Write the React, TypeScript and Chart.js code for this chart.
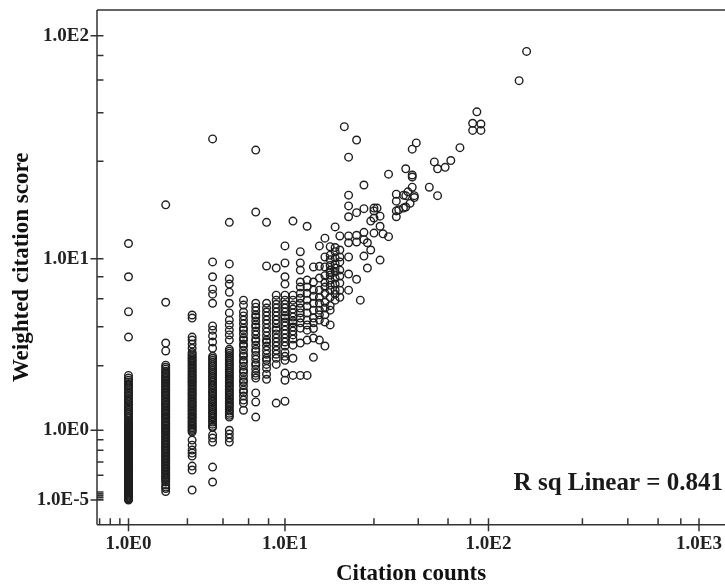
import React, { useEffect, useRef } from "react";
import { Chart, registerables } from "chart.js";

Chart.register(...registerables);

const columnCounts = [1, 2, 3, 4, 5, 6, 7, 8, 9, 10, 11, 12, 13, 14, 15, 16, 17, 18, 19];
const scores1 = [11.8, 8.2, 5.5, 4.05, 2.45, 2.36, 2.29, 2.23, 2.16, 2.11, 2.05, 1.98, 1.92, 1.87, 1.81, 1.75, 1.7, 1.65, 1.59, 1.54, 1.49, 1.44, 1.39, 1.35, 1.3, 1.26, 1.21, 1.17, 1.15, 1.125, 1.1, 1.08, 1.06, 1.04, 1.02, 1, 0.985, 0.965, 0.945, 0.926, 0.907, 0.888, 0.869, 0.85, 0.832, 0.814, 0.796, 0.778, 0.76, 0.743, 0.725, 0.708, 0.691, 0.675, 0.658, 0.642, 0.626, 0.61, 0.594, 0.578, 0.562, 0.547, 0.532, 0.517, 0.502, 0.487, 0.472, 0.458, 0.443, 0.429, 0.415, 0.401, 0.387, 0.374, 0.36, 0.347, 0.333, 0.32, 0.307, 0.294, 0.281, 0.269, 0.256, 0.244, 0.232, 0.22, 0.208, 0.196, 0.184, 0.172, 0.16, 0.149, 0.137, 0.126, 0.115, 0.104, 0.093, 0.082, 0.071, 0.061, 0.05, 0.04, 0.03, 0.02, 0.01, 0.00001];
const scores2 = [17.8, 6.14, 3.76, 3.4, 2.82, 2.74, 2.67, 2.6, 2.54, 2.49, 2.44, 2.39, 2.34, 2.29, 2.25, 2.2, 2.15, 2.11, 2.06, 2.01, 1.97, 1.92, 1.88, 1.84, 1.8, 1.75, 1.71, 1.67, 1.63, 1.59, 1.56, 1.52, 1.48, 1.44, 1.41, 1.37, 1.34, 1.3, 1.27, 1.24, 1.2, 1.17, 1.14, 1.11, 1.08, 1.05, 1.02, 0.995, 0.965, 0.936, 0.907, 0.878, 0.85, 0.823, 0.796, 0.769, 0.743, 0.716, 0.691, 0.666, 0.642, 0.618, 0.594, 0.57, 0.547, 0.525, 0.502, 0.48, 0.458, 0.436, 0.415, 0.394, 0.374, 0.354, 0.333, 0.313, 0.294, 0.275, 0.256, 0.238, 0.22, 0.196, 0.16, 0.137, 0.12, 0.088];
const scores3 = [5.29, 5.1, 4.05, 3.9, 3.71, 3.52, 3.34, 3.27, 3.2, 3.13, 3.07, 3.01, 2.95, 2.89, 2.83, 2.77, 2.71, 2.66, 2.6, 2.55, 2.49, 2.44, 2.39, 2.34, 2.29, 2.25, 2.2, 2.15, 2.11, 2.06, 2.01, 1.97, 1.92, 1.88, 1.84, 1.8, 1.75, 1.71, 1.67, 1.63, 1.59, 1.56, 1.52, 1.48, 1.44, 1.41, 1.37, 1.34, 1.3, 1.27, 1.24, 1.2, 1.17, 1.14, 1.11, 1.08, 1.05, 1.02, 0.995, 0.965, 0.814, 0.725, 0.642, 0.594, 0.547, 0.401, 0.347, 0.104];
const scores4 = [35.2, 9.66, 8.2, 7.13, 6.74, 6.07, 4.64, 4.41, 4.11, 3.81, 3.52, 3.17, 3.09, 3.01, 2.93, 2.85, 2.78, 2.7, 2.63, 2.56, 2.49, 2.42, 2.36, 2.29, 2.23, 2.16, 2.11, 2.05, 1.98, 1.92, 1.87, 1.81, 1.75, 1.7, 1.65, 1.59, 1.54, 1.49, 1.44, 1.39, 1.35, 1.3, 1.26, 1.21, 1.17, 1.125, 1.08, 1.06, 0.91, 0.85, 0.778, 0.387, 0.196];
const scores5 = [14.8, 9.45, 8, 7.55, 6.89, 6.07, 5.42, 4.98, 4.7, 4.41, 4.16, 3.9, 3.47, 3.39, 3.3, 3.21, 3.13, 3.05, 2.97, 2.89, 2.82, 2.74, 2.67, 2.6, 2.53, 2.46, 2.39, 2.33, 2.26, 2.2, 2.13, 2.08, 2.01, 1.95, 1.9, 1.84, 1.78, 1.73, 1.67, 1.62, 1.57, 1.52, 1.46, 1.42, 1.37, 1.32, 1.28, 1, 0.926, 0.85, 0.778];
const scores6 = [6.29, 5.94, 5.48, 5.23, 4.98, 4.76, 4.52, 4.41, 4.21, 4, 3.9, 3.71, 3.62, 3.43, 3.26, 3.17, 3.01, 2.93, 2.78, 2.63, 2.56, 2.42, 2.29, 2.23, 2.11, 1.98, 1.92, 1.81, 1.7, 1.62, 1.44];
const scores7 = [31.4, 16.5, 6.07, 5.8, 5.55, 5.29, 5.16, 4.93, 4.7, 4.58, 4.36, 4.16, 3.95, 3.86, 3.66, 3.47, 3.38, 3.21, 3.05, 2.89, 2.82, 2.67, 2.53, 2.45, 2.36, 1.9, 1.65, 1.28];
const scores8 = [14.8, 9.24, 6.07, 5.74, 5.48, 5.23, 4.98, 4.76, 4.52, 4.32, 4.11, 3.9, 3.81, 3.62, 3.43, 3.26, 3.09, 3.01, 2.85, 2.7, 2.49, 2.32];
const scores9 = [9.03, 6.66, 6.29, 6, 5.74, 5.48, 5.23, 4.98, 4.76, 4.52, 4.41, 4.21, 4, 3.81, 3.62, 3.43, 3.26, 3.09, 2.85, 1.62];
const scores10 = [11.5, 9.55, 8.2, 7.55, 6.66, 6.29, 6, 5.74, 5.48, 5.23, 5.1, 4.87, 4.64, 4.41, 4.21, 4, 3.81, 3.62, 3.34, 3.17, 3.01, 2.53, 2.29, 1.67];
const scores11 = [15, 6.66, 6.29, 5.94, 5.67, 5.42, 5.16, 4.93, 4.82, 4.58, 4.36, 4.16, 3.95, 3.66, 3.09, 2.45];
const scores12 = [10.8, 9.55, 8.83, 7.73, 7.3, 6.8, 6.43, 6.07, 5.74, 5.42, 5.1, 4.82, 4.52, 3.76, 2.45];
const scores13 = [14.2, 7.9, 7.3, 6.8, 6.29, 5.87, 5.42, 4.98, 4.7, 4.41, 3.9, 2.45];
const scores14 = [9.14, 7.73, 7.05, 6.58, 6.07, 5.6, 5.1, 4.82, 4.5, 4, 3.13];
const scores15 = [11.5, 9.2, 8.08, 7.05, 6.5, 6.07, 5.6, 5.3, 4.98, 3.9];
const scores16 = [12.5, 10.2, 9.14, 8.3, 7.7, 7.3, 6.8, 6.14, 5.74, 5.3, 4.87, 3.62];
const scores17 = [11.4, 10.4, 9.9, 9.3, 8.83, 8.6, 8.35, 7.9, 7.46, 7.05, 6.5, 5.9, 5.6, 4.7];
const scores18 = [14.1, 11.3, 10.8, 10.1, 9.45, 9.03, 8.64, 8.08, 7.55, 7.05, 6.74, 6.29];
const scores19 = [12.8, 11, 10.2, 9.66, 8.83, 8.26, 7.64, 7.05, 6.5];
const columnScores = [scores1, scores2, scores3, scores4, scores5, scores6, scores7, scores8, scores9, scores10, scores11, scores12, scores13, scores14, scores15, scores16, scores17, scores18, scores19];

const highCounts = [20, 21, 21, 21, 21, 21, 21, 21, 21, 21, 23, 23, 23, 23, 23, 24, 25, 25, 25, 25, 25, 26, 26, 27, 27, 28, 28, 28, 28, 29, 30, 30, 30, 31, 33, 33, 36, 36, 36, 36, 37, 39, 39, 40, 40, 40, 41, 42, 43, 43, 43, 43, 44, 44, 45, 52, 55, 57, 57, 62, 66, 73, 84, 84, 88, 92, 92, 140, 152];
const highScores = [39.9, 29.2, 19.7, 17.6, 15.7, 12.8, 11.9, 10.2, 8.45, 7.05, 34.8, 16.4, 12.9, 12, 7.97, 6.29, 21.9, 17.1, 13.3, 12.3, 10.3, 11.9, 9.03, 15, 11, 17.2, 16.7, 15.5, 13.2, 17.2, 15.8, 14.2, 9.86, 13.1, 24.5, 12.7, 19.9, 18.5, 16.7, 15.7, 16.9, 19.7, 17.2, 25.9, 19.6, 17.4, 20.4, 18.1, 31.7, 24.3, 23.8, 21.4, 19.6, 19.2, 33.8, 21.4, 27.8, 25.9, 19.6, 26.3, 28.2, 32.2, 41.3, 38.4, 46.4, 41, 38.4, 63.6, 85.4];

const xMajorTicks = [1, 10, 100, 1000];
const xMinorTicks = [0.46, 0.64, 0.82, 2.8, 4.6, 6.4, 8.2, 28, 46, 64, 82, 280, 460, 640, 820];
const yMajorTicks = [0.00001, 1, 10, 100];
const yMinorTicks = [0.0082, 0.0064, 0.0046, 0.0028, 0.028, 0.046, 0.064, 0.082, 0.28, 0.46, 0.64, 0.82, 2.8, 4.6, 6.4, 8.2, 28, 46, 64, 82];
const xTitle = "Citation counts";
const yTitle = "Weighted citation score";
const fitNote = "R sq Linear = 0.841";

const shifted = (v: number) => Math.log10(v + 1);
const tickLabel = (v: number) => `1.0E${Math.round(Math.log10(v))}`;
const INK = "#333333";
const SERIF = "'Liberation Serif', serif";

// Unlabelled ticks go first and last so the axes reserve no overhang for labels.
const makeTicks = (major: number[], minor: number[]) => [
  ...minor.slice(0, 1).map((v) => ({ value: shifted(v), major: false, raw: v })),
  ...major.map((v) => ({ value: shifted(v), major: true, raw: v })),
  ...minor.slice(1).map((v) => ({ value: shifted(v), major: false, raw: v })),
];

const frameAndTicks = {
  id: "frameAndTicks",
  afterDraw(chart: any) {
    const { ctx, chartArea: a, scales } = chart;
    ctx.save();
    ctx.strokeStyle = INK;
    ctx.lineWidth = 1.5;
    ctx.beginPath();
    ctx.moveTo(a.left, a.top);
    ctx.lineTo(a.right, a.top);
    ctx.moveTo(a.left, a.top);
    ctx.lineTo(a.left, a.bottom);
    ctx.moveTo(a.left, a.bottom);
    ctx.lineTo(a.right, a.bottom);
    for (const t of scales.x.ticks) {
      const p = scales.x.getPixelForValue(t.value);
      ctx.moveTo(p, a.bottom - 6.5);
      ctx.lineTo(p, a.bottom + (t.major ? 6.5 : 0));
    }
    ctx.stroke();
    ctx.beginPath();
    for (const t of scales.y.ticks) {
      const p = scales.y.getPixelForValue(t.value);
      ctx.moveTo(a.left + 6.5, p);
      ctx.lineTo(a.left - (t.major ? 6.5 : 0), p);
    }
    ctx.stroke();
    ctx.fillStyle = "#1a1a1a";
    ctx.font = `bold 25px ${SERIF}`;
    ctx.textAlign = "right";
    ctx.textBaseline = "alphabetic";
    ctx.fillText(fitNote, 723, 490);
    ctx.restore();
  },
};

export default function App() {
  const ref = useRef<HTMLCanvasElement>(null);
  useEffect(() => {
    const points: { x: number; y: number }[] = [];
    columnCounts.forEach((c, i) => {
      columnScores[i].forEach((s) => points.push({ x: shifted(c), y: shifted(s) }));
    });
    highCounts.forEach((c, i) => points.push({ x: shifted(c), y: shifted(highScores[i]) }));

    const tickFont = { family: SERIF, size: 19, weight: "bold" as const };
    const titleFont = { family: SERIF, size: 23, weight: "bold" as const, lineHeight: 1 };

    const chart = new Chart(ref.current!, {
      type: "scatter",
      data: {
        datasets: [
          {
            data: points,
            pointStyle: "circle",
            pointRadius: 3.8,
            pointBorderWidth: 1.4,
            pointBackgroundColor: "rgba(0,0,0,0)",
            pointBorderColor: "#1f1f1f",
          },
        ],
      },
      options: {
        responsive: false,
        animation: false,
        layout: { autoPadding: false, padding: { top: 10, left: 0, right: 0, bottom: 0 } },
        plugins: { legend: { display: false }, tooltip: { enabled: false }, title: { display: false } },
        scales: {
          x: {
            type: "linear",
            min: 0.152,
            max: 3.1234,
            afterBuildTicks: (s: any) => {
              s.ticks = makeTicks(xMajorTicks, xMinorTicks);
            },
            afterFit: (s: any) => {
              s.height = 59.3;
              s.paddingLeft = 0;
              s.paddingRight = 0;
            },
            grid: { display: false, drawTicks: false },
            border: { display: false },
            ticks: {
              autoSkip: false,
              maxRotation: 0,
              padding: 8,
              color: "#222222",
              font: tickFont,
              callback: (_v: any, i: number, ticks: any[]) => (ticks[i].major ? tickLabel(ticks[i].raw) : ""),
            },
            title: { display: true, text: xTitle, color: "#111111", font: titleFont, padding: { top: 5, bottom: -2 } },
          },
          y: {
            type: "linear",
            min: -0.1066,
            max: 2.1153,
            afterBuildTicks: (s: any) => {
              s.ticks = makeTicks(yMajorTicks, yMinorTicks);
            },
            afterFit: (s: any) => {
              s.width = 97;
              s.paddingTop = 0;
              s.paddingBottom = 0;
            },
            grid: { display: false, drawTicks: false },
            border: { display: false },
            ticks: {
              autoSkip: false,
              padding: 8,
              color: "#222222",
              font: tickFont,
              callback: (_v: any, i: number, ticks: any[]) => (ticks[i].major ? tickLabel(ticks[i].raw) : ""),
            },
            title: { display: true, text: yTitle, color: "#111111", font: titleFont, padding: { top: 11, bottom: 0 } },
          },
        },
      },
      plugins: [frameAndTicks],
    } as any);
    return () => chart.destroy();
  }, []);
  return (
    <canvas
      ref={ref}
      width={725}
      height={584}
      style={{ position: "fixed", left: 0, top: 0, width: 725, height: 584, display: "block", filter: "blur(0.35px)" }}
    />
  );
}
